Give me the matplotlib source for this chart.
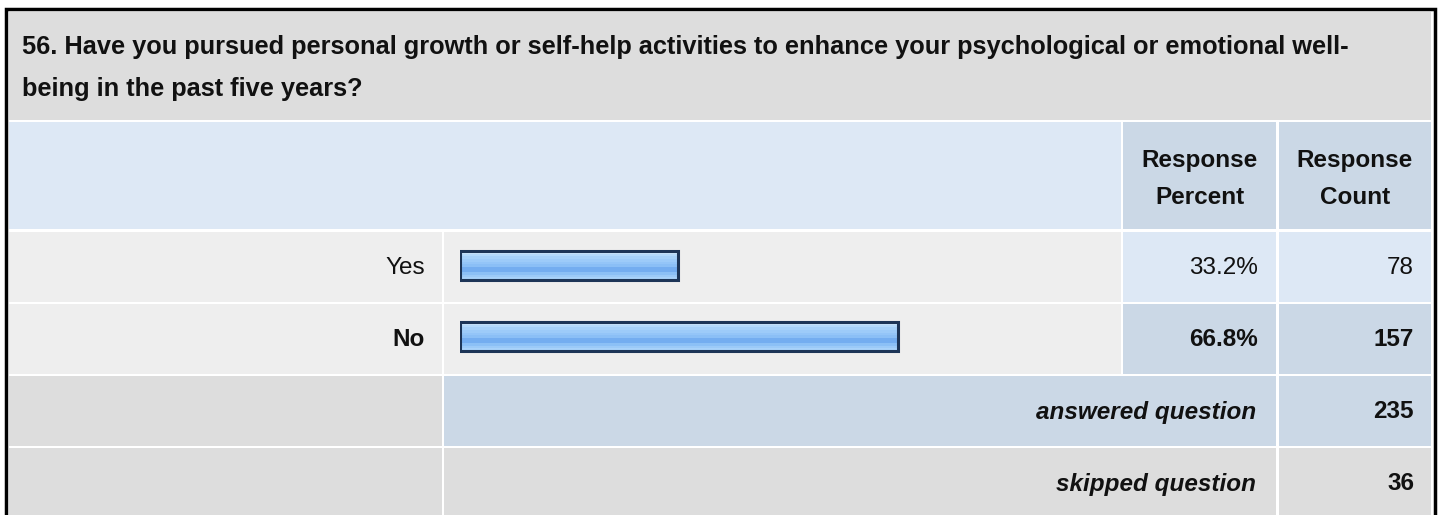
import numpy as np
import matplotlib
matplotlib.use("Agg")
import matplotlib.pyplot as plt
from matplotlib.patches import Rectangle

plt.rcParams['font.family'] = ['Liberation Sans', 'DejaVu Sans']

# data
question = ("56. Have you pursued personal growth or self-help activities to enhance your psychological or emotional well-\n"
            "being in the past five years?")
answers = ["Yes", "No"]
percents = [33.2, 66.8]
counts = [78, 157]
answered = 235
skipped = 36

W, H = 1440, 515
fig = plt.figure(figsize=(W / 100, H / 100), dpi=100)
ax = fig.add_axes([0, 0, 1, 1])
ax.set_xlim(0, W)
ax.set_ylim(H, 0)
ax.axis('off')

GREY = '#dddddd'
LIGHT = '#eeeeee'
BLUE1 = '#dde8f5'
BLUE2 = '#cbd8e6'
INK = '#111111'
FS = 17.5


def cell(x0, x1, y0, y1, color):
    ax.add_patch(Rectangle((x0, y0), x1 - x0, y1 - y0, facecolor=color, edgecolor='none'))


# frame
ax.add_patch(Rectangle((5.5, 9), 1429, 520, facecolor='white', edgecolor='black', lw=2.5))

# column edges
cL = (9, 442)
cB = (444, 1121)
cP = (1123, 1276)
cC = (1279, 1431)

cell(9, 1431, 12, 120, GREY)
ax.text(22, 68, question, fontsize=18.3, fontweight='bold', va='center', ha='left',
        linespacing=1.95, color=INK)

# header
cell(9, 1121, 122, 229, BLUE1)
cell(*cP, 122, 229, BLUE2)
cell(*cC, 122, 229, BLUE2)
ax.text(sum(cP) / 2, 179, "Response\nPercent", fontsize=FS, fontweight='bold', ha='center',
        va='center', linespacing=1.8, color=INK)
ax.text(sum(cC) / 2, 179, "Response\nCount", fontsize=FS, fontweight='bold', ha='center',
        va='center', linespacing=1.8, color=INK)

# answer rows
row_top = [232, 304]
row_h = 70
for i, (a, p, c) in enumerate(zip(answers, percents, counts)):
    y0 = row_top[i]
    y1 = y0 + row_h
    vc = BLUE1 if i == 0 else BLUE2
    cell(*cL, y0, y1, LIGHT)
    cell(*cB, y0, y1, LIGHT)
    cell(*cP, y0, y1, vc)
    cell(*cC, y0, y1, vc)
    fw = 'normal' if i == 0 else 'bold'
    ym = (y0 + y1) / 2 + 1
    ax.text(425, ym, a, fontsize=FS, fontweight=fw, ha='right', va='center', color=INK)
    ax.text(1258, ym, f"{p:.1f}%", fontsize=FS, fontweight=fw, ha='right', va='center', color=INK)
    ax.text(1414, ym, str(c), fontsize=FS, fontweight=fw, ha='right', va='center', color=INK)

# summary rows
cell(*cL, 376, 446, GREY)
cell(444, 1276, 376, 446, BLUE2)
cell(*cC, 376, 446, BLUE2)
ax.text(1256, 412, "answered question", fontsize=FS, fontweight='bold', style='italic',
        ha='right', va='center', color=INK)
ax.text(1414, 412, str(answered), fontsize=FS, fontweight='bold', ha='right', va='center', color=INK)

cell(*cL, 448, 530, GREY)
cell(444, 1276, 448, 530, GREY)
cell(*cC, 448, 530, GREY)
ax.text(1256, 484, "skipped question", fontsize=FS, fontweight='bold', style='italic',
        ha='right', va='center', color=INK)
ax.text(1414, 484, str(skipped), fontsize=FS, fontweight='bold', ha='right', va='center', color=INK)

# bars
bx0, bx1 = 460, 1116
by0, by1 = 230, 372
bax = fig.add_axes([bx0 / W, 1 - by1 / H, (bx1 - bx0) / W, (by1 - by0) / H])
bax.set_xlim(0, 100)
bax.set_ylim(len(answers) - 0.5, -0.5)
bax.axis('off')
bax.patch.set_alpha(0)

stripes = ['#c9e4fc', '#b4d9fb', '#a6d1fa', '#9dcbf9', '#94c5f8', '#8bbff6',
           '#74adf0', '#74adf0', '#8cc0f6', '#9ccaf8', '#a8d2fa']
grad = np.array([matplotlib.colors.to_rgb(s) for s in stripes])[:, None, :]
bh = 0.40
ypos = np.arange(len(answers))
bars = bax.barh(ypos, percents, height=bh, color='none', edgecolor='#1d3557', lw=2.2, zorder=3)
for yy, p, b in zip(ypos, percents, bars):
    im = bax.imshow(grad, extent=[0, p, yy + bh / 2, yy - bh / 2], aspect='auto',
                    interpolation='nearest', zorder=2)
    im.set_clip_path(b)

fig.savefig('out.png', dpi=100)
